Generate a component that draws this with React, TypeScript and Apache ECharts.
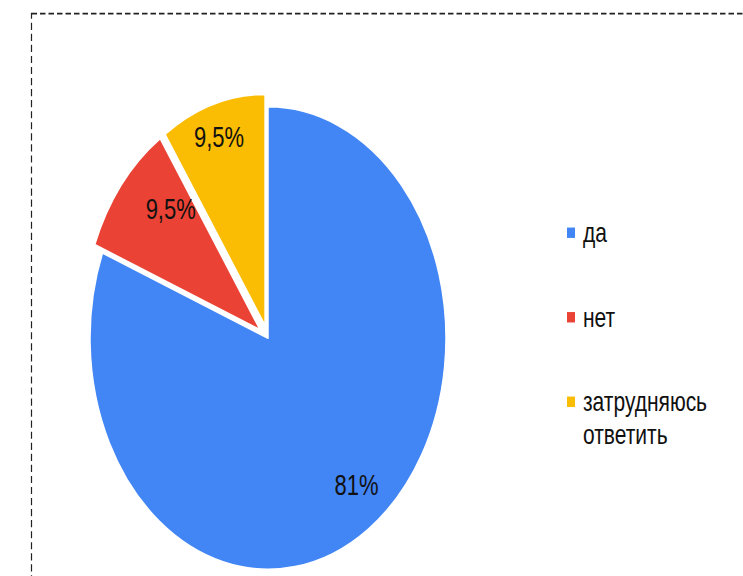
import React, { useEffect, useRef } from 'react';
import * as echarts from 'echarts';

// ---- data ----
const categories = ['да', 'нет', 'затрудняюсь ответить'];
const values = [81, 9.5, 9.5];
const colors = ['#4285F4', '#EA4335', '#FBBC04'];
const exploded = [false, true, true];

// ---- layout / style ----
const W = 743;
const H = 576;
const IH = 443; // inner (unstretched) height; the picture is stretched vertically
const CX = 268;
const CY = 260;
const R = 178;
const OFFSET = 10;
const LABEL_R = [0.79, 0.71, 0.84];
const LABEL_SHIFT = [-3.9, 7.7, -0.5];
const FONT = '"Liberation Sans", Arial, sans-serif';
const TEXT_COLOR = '#111';
const LEG_X = 567;
const LEG_Y0 = 179;
const LEG_STEP = 65;
const LEG_LH = 25;

const rad = (d: number) => (d * Math.PI) / 180;

export default function App() {
  const ref = useRef<HTMLDivElement>(null);
  useEffect(() => {
    const chart = echarts.init(ref.current!, null, { renderer: 'svg' });
    const total = values.reduce((a, b) => a + b, 0);
    const midAngle = (i: number) => {
      let start = 0;
      for (let j = 0; j < i; j++) start += values[j];
      return ((start + values[i] / 2) / total) * 360;
    };
    const labelLayout = (params: any) => {
      const i = params.dataIndex;
      const mid = midAngle(i);
      const d0 = R / 2;
      const x0 = Math.sin(rad(mid)) * d0;
      const y0 = -Math.cos(rad(mid)) * d0;
      const a = mid + LABEL_SHIFT[i];
      const rr = LABEL_R[i] * R;
      return {
        dx: Math.sin(rad(a)) * rr - x0,
        dy: -Math.cos(rad(a)) * rr - y0,
      };
    };

    const legendEls: any[] = [];
    categories.forEach((c, i) => {
      const cy = LEG_Y0 + i * LEG_STEP;
      legendEls.push({
        type: 'rect',
        shape: { x: LEG_X, y: cy - 4, width: 8, height: 8 },
        style: { fill: colors[i] },
        silent: true,
      });
      legendEls.push({
        type: 'text',
        x: LEG_X + 16,
        y: cy - LEG_LH / 2,
        style: {
          text: c.replace(' ', '\n'),
          fontSize: 21,
          lineHeight: LEG_LH,
          fill: TEXT_COLOR,
          fontFamily: FONT,
          verticalAlign: 'top',
          align: 'left',
        },
        silent: true,
      });
    });

    chart.setOption({
      animation: false,
      backgroundColor: '#fff',
      graphic: [
        {
          type: 'rect',
          shape: { x: 31.5, y: 10.5, width: 900, height: 700 },
          style: { fill: 'none', stroke: '#222', lineWidth: 1.2, lineDash: [5.5, 3] },
          silent: true,
        },
        ...legendEls,
      ],
      series: [
        {
          type: 'pie',
          center: [CX, CY],
          radius: R,
          startAngle: 90,
          clockwise: true,
          selectedMode: 'multiple',
          selectedOffset: OFFSET,
          silent: true,
          avoidLabelOverlap: false,
          itemStyle: { borderColor: '#fff', borderWidth: 1.5 },
          label: {
            show: true,
            position: 'inside',
            formatter: (p: any) => String(p.value).replace('.', ',') + '%',
            color: TEXT_COLOR,
            fontSize: 22,
            fontFamily: FONT,
          },
          labelLine: { show: false },
          labelLayout,
          emphasis: { disabled: true },
          data: categories.map((name, i) => ({
            name,
            value: values[i],
            selected: exploded[i],
            itemStyle: { color: colors[i] },
          })),
        },
      ],
    });
    return () => chart.dispose();
  }, []);
  return (
    <div
      style={{
        position: 'fixed',
        left: 0,
        top: 0,
        width: W,
        height: IH,
        transform: `scaleY(${H / IH})`,
        transformOrigin: '0 0',
        background: '#fff',
      }}
    >
      <div ref={ref} style={{ width: W, height: IH }} />
    </div>
  );
}
